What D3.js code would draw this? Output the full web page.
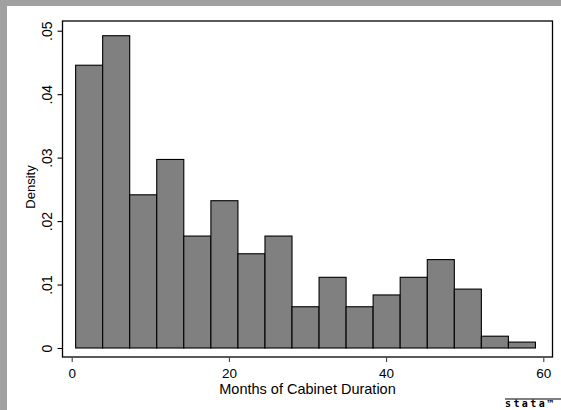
<!DOCTYPE html>
<html>
<head>
<meta charset="utf-8">
<script src="https://cdn.jsdelivr.net/npm/d3@7"></script>
<style>
  html, body { margin: 0; padding: 0; background: #ffffff; }
  svg { display: block; }
  text { font-family: "Liberation Sans", Arial, sans-serif; fill: #000; }
</style>
</head>
<body>
<svg id="chart" width="561" height="410"></svg>
<script>
// Histogram of cabinet duration (months), density scale, 17 bins.
const binEdges = [0.5, 3.94, 7.38, 10.82, 14.26, 17.71, 21.15, 24.59, 28.03,
                  31.47, 34.91, 38.35, 41.79, 45.24, 48.68, 52.12, 55.56, 59.0];
const densities = [0.04456, 0.04921, 0.02414, 0.02971, 0.01764, 0.02321, 0.01485,
                   0.01764, 0.00650, 0.01114, 0.00650, 0.00836, 0.01114, 0.01393,
                   0.00928, 0.00186, 0.00093];
const xTicks = [0, 20, 40, 60];
const yTicks = [0, 0.01, 0.02, 0.03, 0.04, 0.05];
const yTickLabels = ["0", ".01", ".02", ".03", ".04", ".05"];
const xTitle = "Months of Cabinet Duration";
const yTitle = "Density";

const svg = d3.select("#chart");

// outer graph region with the darker band along the top and left
svg.append("rect").attr("x", 0).attr("y", 0).attr("width", 561).attr("height", 410).attr("fill", "#ffffff");
svg.append("rect").attr("x", 0).attr("y", 0).attr("width", 561).attr("height", 6).attr("fill", "#a0a0a0");
svg.append("rect").attr("x", 0).attr("y", 0).attr("width", 7).attr("height", 410).attr("fill", "#a0a0a0");

const frame = { left: 62.5, top: 21, right: 552.5, bottom: 357 };

const x = d3.scaleLinear().domain([0, 60]).range([71.7, 543.3]);
const y = d3.scaleLinear().domain([0, 0.05]).range([348, 30.7]);

// plot region frame
svg.append("rect")
  .attr("x", frame.left).attr("y", frame.top)
  .attr("width", frame.right - frame.left).attr("height", frame.bottom - frame.top)
  .attr("fill", "#ffffff").attr("stroke", "#000").attr("stroke-width", 1.3);

// bars
const bins = densities.map((d, i) => ({ x0: binEdges[i], x1: binEdges[i + 1], d }));
svg.append("g").selectAll("rect").data(bins).join("rect")
  .attr("x", b => x(b.x0))
  .attr("y", b => y(b.d))
  .attr("width", b => x(b.x1) - x(b.x0))
  .attr("height", b => y(0) - y(b.d))
  .attr("fill", "#808080")
  .attr("stroke", "#000")
  .attr("stroke-width", 1.1);

// y axis (ticks outside the frame, labels rotated)
const yAxis = svg.append("g").attr("transform", `translate(${frame.left},0)`)
  .call(d3.axisLeft(y).tickValues(yTicks).tickSize(5).tickFormat((d, i) => yTickLabels[i]));
yAxis.select(".domain").remove();
yAxis.selectAll(".tick line").attr("stroke", "#000").attr("stroke-width", 1.1);
yAxis.selectAll(".tick text")
  .attr("x", null).attr("dy", null)
  .attr("transform", "translate(-11,0) rotate(-90)")
  .attr("text-anchor", "middle")
  .style("font-size", "14px");

// x axis
const xAxis = svg.append("g").attr("transform", `translate(0,${frame.bottom})`)
  .call(d3.axisBottom(x).tickValues(xTicks).tickSize(5).tickFormat(d3.format("d")));
xAxis.select(".domain").remove();
xAxis.selectAll(".tick line").attr("stroke", "#444").attr("stroke-width", 1.1);
xAxis.selectAll(".tick text")
  .attr("y", 20.5).attr("dy", null)
  .style("font-size", "13.5px");

// axis titles
svg.append("text")
  .attr("x", (frame.left + frame.right) / 2).attr("y", 394)
  .attr("text-anchor", "middle")
  .style("font-size", "14.5px")
  .text(xTitle);

svg.append("text")
  .attr("transform", "translate(34.5,187) rotate(-90)")
  .attr("text-anchor", "middle")
  .style("font-size", "13px")
  .text(yTitle);

// small wordmark in the lower right corner
svg.append("line").attr("x1", 505).attr("x2", 561).attr("y1", 399).attr("y2", 399)
  .attr("stroke", "#000").attr("stroke-width", 1.2);
svg.append("text")
  .attr("x", 505).attr("y", 407)
  .style("font-family", "'DejaVu Sans Mono', monospace")
  .style("font-size", "10px")
  .style("font-weight", "bold")
  .style("letter-spacing", "2.4px")
  .text("stata™");
</script>
</body>
</html>
